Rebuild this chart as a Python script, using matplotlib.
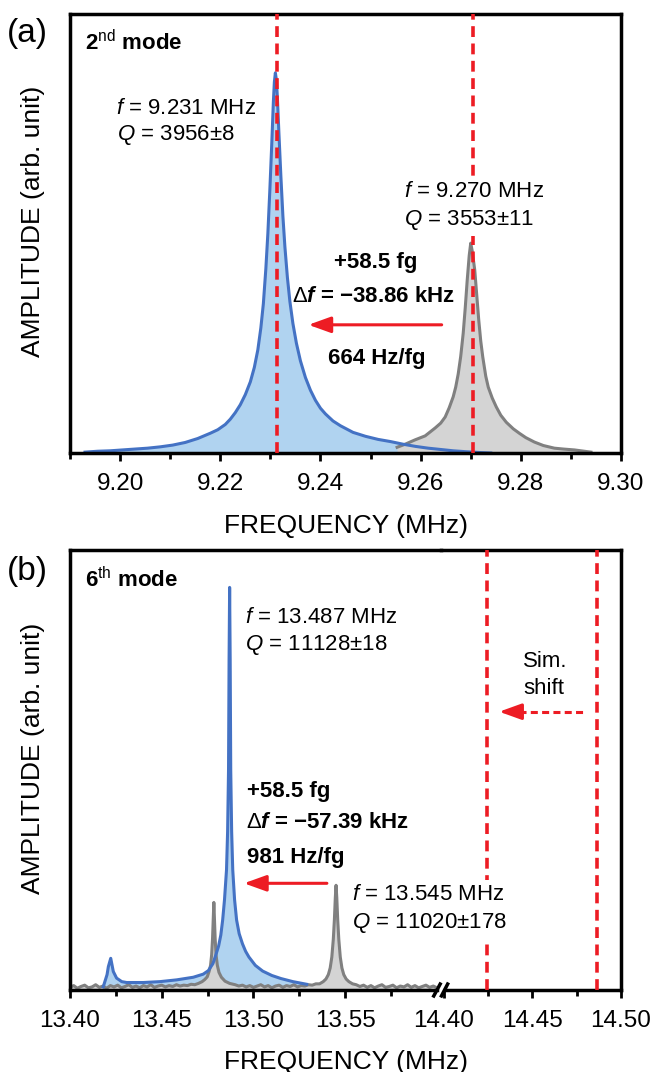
import matplotlib
matplotlib.use('Agg')
import matplotlib.pyplot as plt

plt.rcParams['font.family'] = ['Liberation Sans', 'DejaVu Sans']
plt.rcParams['mathtext.fontset'] = 'custom'
plt.rcParams['mathtext.rm'] = 'Liberation Sans'
plt.rcParams['mathtext.it'] = 'Liberation Sans:italic'
plt.rcParams['mathtext.bf'] = 'Liberation Sans:bold'
plt.rcParams['mathtext.bfit'] = 'Liberation Sans:italic:bold'

# 2nd mode, after loading (blue) and before loading (grey); MHz vs arb. unit
m2_load_f = [9.1930, 9.1955, 9.1980, 9.2005, 9.2030, 9.2055, 9.2080, 9.2105, 9.2130, 9.2155,
             9.2180, 9.2195, 9.2210, 9.2220, 9.2230, 9.2240, 9.2250, 9.2260, 9.2268, 9.2275,
             9.2281, 9.2286, 9.2291, 9.2295, 9.2299, 9.2303, 9.2306, 9.2308, 9.2310, 9.2312,
             9.2314, 9.2317, 9.2321, 9.2325, 9.2329, 9.2334, 9.2339, 9.2345, 9.2352, 9.2360,
             9.2370, 9.2380, 9.2390, 9.2400, 9.2410, 9.2425, 9.2440, 9.2465, 9.2490, 9.2515,
             9.2540, 9.2565, 9.2590, 9.2615, 9.2640, 9.2665, 9.2690, 9.2720, 9.2740]
m2_load_a = [0.002, 0.004, 0.005, 0.007, 0.009, 0.011, 0.014, 0.018, 0.024, 0.033,
             0.045, 0.053, 0.065, 0.077, 0.092, 0.110, 0.133, 0.162, 0.195, 0.235,
             0.285, 0.34, 0.42, 0.50, 0.60, 0.71, 0.80, 0.845, 0.866, 0.850,
             0.81, 0.73, 0.63, 0.54, 0.47, 0.40, 0.345, 0.295, 0.25, 0.21,
             0.172, 0.143, 0.120, 0.102, 0.089, 0.073, 0.062, 0.047, 0.038, 0.031,
             0.026, 0.020, 0.015, 0.011, 0.008, 0.005, 0.003, 0.001, 0.0]
m2_bare_f = [9.2553, 9.2569, 9.2589, 9.2609, 9.2629, 9.2640, 9.2649, 9.2657, 9.2665, 9.2670,
             9.2675, 9.2680, 9.2685, 9.2689, 9.2693, 9.2697, 9.2700, 9.2703, 9.2708, 9.2712,
             9.2716, 9.2720, 9.2724, 9.2730, 9.2735, 9.2743, 9.2751, 9.2760, 9.2771, 9.2785,
             9.2797, 9.2810, 9.2827, 9.2845, 9.2867, 9.2885, 9.2907, 9.2940]
m2_bare_a = [0.013, 0.020, 0.030, 0.039, 0.057, 0.068, 0.082, 0.103, 0.128, 0.150,
             0.180, 0.220, 0.273, 0.330, 0.394, 0.450, 0.478, 0.460, 0.417, 0.360,
             0.303, 0.255, 0.219, 0.175, 0.150, 0.125, 0.105, 0.086, 0.070, 0.055,
             0.045, 0.035, 0.025, 0.017, 0.011, 0.009, 0.007, 0.002]
m2_marks = [9.2313, 9.2704]

# 6th mode
m6_load_f = [13.4181, 13.4202, 13.4209, 13.4222, 13.4236, 13.4254, 13.4282, 13.4309, 13.4399, 13.4490,
             13.4581, 13.4672, 13.4726, 13.4754, 13.4779, 13.4795, 13.4810, 13.4822, 13.4832, 13.4842,
             13.4853, 13.4859, 13.4864, 13.4867, 13.4870, 13.4873, 13.4876, 13.4881, 13.4887, 13.4897,
             13.4908, 13.4922, 13.4940, 13.4957, 13.4975, 13.5010, 13.5050, 13.5100, 13.5150, 13.5215,
             13.5290]
m6_load_a = [0.007, 0.035, 0.053, 0.072, 0.042, 0.027, 0.019, 0.017, 0.017, 0.019,
             0.023, 0.029, 0.036, 0.044, 0.060, 0.080, 0.100, 0.125, 0.159, 0.205,
             0.273, 0.36, 0.50, 0.75, 0.915, 0.75, 0.50, 0.36, 0.273, 0.205,
             0.159, 0.128, 0.105, 0.088, 0.075, 0.056, 0.043, 0.033, 0.026, 0.019,
             0.013]
m6_bare_f = [13.400, 13.402, 13.404, 13.406, 13.408, 13.410, 13.412, 13.414, 13.416, 13.418,
             13.420, 13.422, 13.424, 13.426, 13.428, 13.430, 13.432, 13.434, 13.436, 13.438,
             13.440, 13.442, 13.444, 13.446, 13.448, 13.450, 13.452, 13.454, 13.456, 13.458,
             13.460, 13.462, 13.464, 13.466, 13.468,
             13.4700, 13.4720, 13.4735, 13.4748, 13.4758, 13.4766, 13.4772, 13.4777, 13.4781, 13.4784,
             13.4787, 13.4791, 13.4796, 13.4803, 13.4812, 13.4825, 13.4845, 13.4870,
             13.490, 13.492, 13.494, 13.496, 13.498, 13.500, 13.502, 13.504, 13.506, 13.508,
             13.510, 13.512, 13.514, 13.516, 13.518, 13.520, 13.522, 13.524, 13.526, 13.528,
             13.530, 13.532, 13.534,
             13.5360, 13.5380, 13.5395, 13.5408, 13.5418, 13.5427, 13.5435, 13.5441, 13.5446, 13.5450,
             13.5454, 13.5459, 13.5465, 13.5473, 13.5482, 13.5492, 13.5505, 13.5520, 13.5540,
             13.556, 13.558, 13.560, 13.562, 13.564, 13.566, 13.568, 13.570, 13.572, 13.574,
             13.576, 13.578, 13.580, 13.582, 13.584, 13.586, 13.588, 13.590, 13.592, 13.594,
             13.596, 13.598, 13.599]
m6_bare_a = [0.006, 0.010, 0.004, 0.008, 0.011, 0.005, 0.007, 0.012, 0.006, 0.009,
             0.004, 0.010, 0.007, 0.011, 0.005, 0.008, 0.012, 0.006, 0.009, 0.005,
             0.010, 0.007, 0.012, 0.006, 0.009, 0.011, 0.007, 0.010, 0.008, 0.012,
             0.009, 0.011, 0.010, 0.013, 0.012,
             0.015, 0.019, 0.024, 0.030, 0.042, 0.056, 0.080, 0.118, 0.165, 0.199,
             0.165, 0.118, 0.080, 0.056, 0.040, 0.029, 0.020, 0.015,
             0.012, 0.009, 0.011, 0.007, 0.010, 0.006, 0.009, 0.012, 0.007, 0.010,
             0.005, 0.009, 0.011, 0.006, 0.010, 0.008, 0.012, 0.007, 0.010, 0.009,
             0.012, 0.011, 0.014,
             0.014, 0.019, 0.025, 0.035, 0.050, 0.075, 0.115, 0.160, 0.210, 0.238,
             0.210, 0.160, 0.115, 0.075, 0.050, 0.035, 0.025, 0.019, 0.014,
             0.012, 0.008, 0.011, 0.006, 0.010, 0.005, 0.009, 0.012, 0.006, 0.008,
             0.011, 0.005, 0.009, 0.007, 0.012, 0.006, 0.010, 0.005, 0.008, 0.011,
             0.006, 0.009, 0.007]
sim_marks = [14.4245, 14.4865]

top_ticks = [9.20, 9.22, 9.24, 9.26, 9.28, 9.30]
low_ticks = [13.40, 13.45, 13.50, 13.55]
high_ticks = [14.40, 14.45, 14.50]

BLUE = '#4472c4'
BLUE_FILL = '#b0d3f0'
GREY = '#808080'
GREY_FILL = '#d4d4d4'
RED = '#ed1c24'
LW = 2.2
TICK_FS = 17.5
LABEL_FS = 19
NOTE_FS = 16
dash = (0, (3.0, 1.8))
white = dict(facecolor='white', edgecolor='none', pad=2.5)


def style(ax):
    for s in ax.spines.values():
        s.set_linewidth(2.5)
    ax.set_yticks([])
    ax.set_ylim(0, 1)
    ax.tick_params(axis='x', which='both', direction='out', width=2, labelsize=TICK_FS, pad=8.5)
    ax.tick_params(axis='x', which='major', length=6)
    ax.tick_params(axis='x', which='minor', length=4.5)


def spectra(ax, fl, al, fb, ab):
    ax.fill_between(fl, al, 0, color=BLUE_FILL, lw=0, zorder=1)
    ax.fill_between(fb, ab, 0, color=GREY_FILL, lw=0, zorder=1.1)
    ax.plot(fb, ab, color=GREY, lw=LW, zorder=2)
    ax.plot(fl, al, color=BLUE, lw=LW, zorder=2.1)


def arrow(ax, tip, tail, y):
    ax.annotate('', xy=(tip, y), xytext=(tail, y), zorder=4,
                arrowprops=dict(arrowstyle='-|>,head_length=0.75,head_width=0.27',
                                mutation_scale=18, color=RED, lw=LW, shrinkA=0, shrinkB=0))


W, H = 651, 1072
fig = plt.figure(figsize=(W / 100, H / 100), dpi=100)

# (a) 2nd mode
ax1 = fig.add_axes([70 / W, 1 - 453 / H, 551 / W, 439 / H])
style(ax1)
spectra(ax1, m2_load_f, m2_load_a, m2_bare_f, m2_bare_a)
for f in m2_marks:
    ax1.axvline(f, color=RED, lw=2.6, linestyle=dash, zorder=3)
ax1.set_xlim(9.19, 9.30)
ax1.set_xticks(top_ticks)
ax1.set_xticks([9.19, 9.21, 9.23, 9.25, 9.27, 9.29], minor=True)
ax1.set_xticklabels(['%.2f' % t for t in top_ticks])
ax1.set_xlabel('FREQUENCY (MHz)', fontsize=LABEL_FS)
ax1.xaxis.set_label_coords(0.5, -0.139)
ax1.set_ylabel('AMPLITUDE (arb. unit)', fontsize=LABEL_FS)
ax1.yaxis.set_label_coords(-0.045, 0.528)

ax1.text(9.193, 0.918, r'2$^{\rm nd}$ mode', fontsize=16, fontweight='bold')
ax1.text(9.1992, 0.772, r'$f$ = 9.231 MHz', fontsize=NOTE_FS, zorder=5, bbox=white)
ax1.text(9.1994, 0.713, r'$Q$ = 3956±8', fontsize=NOTE_FS, zorder=5, bbox=white)
ax1.text(9.2567, 0.583, r'$f$ = 9.270 MHz', fontsize=NOTE_FS, zorder=5, bbox=white)
ax1.text(9.2567, 0.519, r'$Q$ = 3553±11', fontsize=NOTE_FS, zorder=5, bbox=white)
ax1.text(9.2511, 0.421, '+58.5 fg', fontsize=NOTE_FS, fontweight='bold', ha='center')
ax1.text(9.2506, 0.344, r'$\Delta\mathbfit{f}$ = −38.86 kHz', fontsize=NOTE_FS,
         fontweight='bold', ha='center')
ax1.text(9.2513, 0.203, '664 Hz/fg', fontsize=NOTE_FS, fontweight='bold', ha='center')
arrow(ax1, 9.2376, 9.2642, 0.292)

# (b) 6th mode, broken frequency axis
ax2 = fig.add_axes([70 / W, 1 - 990 / H, 371 / W, 440 / H])
ax3 = fig.add_axes([441 / W, 1 - 990 / H, 180 / W, 440 / H])
for ax in (ax2, ax3):
    style(ax)
ax2.set_zorder(2)
ax3.set_zorder(1)
ax2.patch.set_visible(False)
ax2.spines['right'].set_visible(False)
ax3.spines['left'].set_visible(False)

spectra(ax2, m6_load_f, m6_load_a, m6_bare_f, m6_bare_a)
ax2.set_xlim(13.40, 13.6022)
ax2.set_xticks(low_ticks)
ax2.set_xticks([13.425, 13.475, 13.525, 13.575], minor=True)
ax2.set_xticklabels(['%.2f' % t for t in low_ticks])
ax2.spines['bottom'].set_bounds(13.40, 13.600)

ax3.set_xlim(14.3985, 14.50)
ax3.set_xticks(high_ticks)
ax3.set_xticks([14.425, 14.475], minor=True)
ax3.set_xticklabels(['%.2f' % t for t in high_ticks])
ax3.spines['bottom'].set_bounds(14.4005, 14.50)
for f in sim_marks:
    ax3.axvline(f, color=RED, lw=2.6, linestyle=dash, zorder=3)

# break marks on the frequency axis
for ax, xb in ((ax2, 13.600), (ax3, 14.4005)):
    ax.plot([xb - 0.0022, xb + 0.0022], [-0.017, 0.017], color='black', lw=2.5,
            clip_on=False, zorder=6, solid_capstyle='butt')

ax2.set_xlabel('FREQUENCY (MHz)', fontsize=LABEL_FS)
ax2.xaxis.set_label_coords((345.5 - 70) / 371, -0.136)
ax2.set_ylabel('AMPLITUDE (arb. unit)', fontsize=LABEL_FS)
ax2.yaxis.set_label_coords(-0.0668, 0.527)

ax2.text(13.4082, 0.916, r'6$^{\rm th}$ mode', fontsize=16, fontweight='bold')
ax2.text(13.4954, 0.834, r'$f$ = 13.487 MHz', fontsize=NOTE_FS, zorder=5, bbox=white)
ax2.text(13.4954, 0.773, r'$Q$ = 11128±18', fontsize=NOTE_FS, zorder=5, bbox=white)
ax2.text(13.5535, 0.2045, r'$f$ = 13.545 MHz', fontsize=NOTE_FS, zorder=5, bbox=white)
ax2.text(13.5535, 0.140, r'$Q$ = 11020±178', fontsize=NOTE_FS, zorder=5, bbox=white)
ax2.text(13.4963, 0.439, '+58.5 fg', fontsize=NOTE_FS, fontweight='bold')
ax2.text(13.4961, 0.3675, r'$\Delta\mathbfit{f}$ = −57.39 kHz', fontsize=NOTE_FS, fontweight='bold')
ax2.text(13.4963, 0.288, '981 Hz/fg', fontsize=NOTE_FS, fontweight='bold')
arrow(ax2, 13.4948, 13.540, 0.2425)

ax3.text(14.4447, 0.7334, 'Sim.', fontsize=NOTE_FS)
ax3.text(14.4447, 0.673, 'shift', fontsize=NOTE_FS)
# simulated shift: dashed shaft with a solid head
ax3.plot([14.4425, 14.479], [0.6325, 0.6325], color=RED, lw=LW, linestyle=(0, (2.3, 1.4)), zorder=4)
ax3.annotate('', xy=(14.4313, 0.6325), xytext=(14.4430, 0.6325), zorder=4,
             arrowprops=dict(arrowstyle='-|>,head_length=0.75,head_width=0.27',
                             mutation_scale=18, color=RED, lw=LW, shrinkA=0, shrinkB=0))

fig.text(7 / W, 1 - 42 / H, '(a)', fontsize=24)
fig.text(7 / W, 1 - 580 / H, '(b)', fontsize=24)

fig.savefig('out.png', dpi=100)
